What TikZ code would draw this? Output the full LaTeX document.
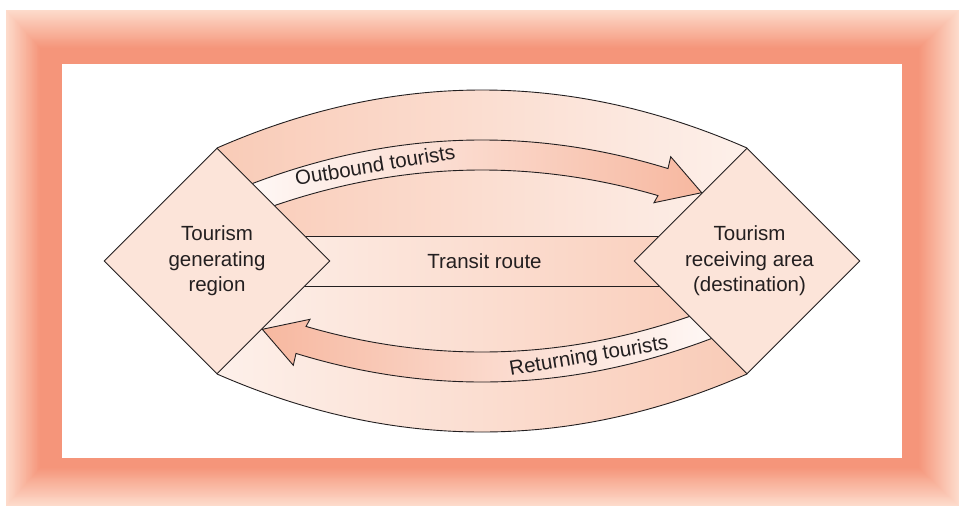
\documentclass[tikz,border=0pt]{standalone}
\usepackage{fontspec}
\setmainfont{Liberation Sans}
\usetikzlibrary{shapes.geometric}
\definecolor{frameStrong}{RGB}{245,149,122}
\definecolor{frameLight}{RGB}{253,219,203}
\definecolor{bandStrong}{RGB}{249,203,183}
\definecolor{bandLight}{RGB}{253,240,234}
\definecolor{diamondFill}{RGB}{252,228,217}
\definecolor{arrowPeach}{RGB}{247,184,160}
\definecolor{inkGray}{RGB}{35,31,32}

\begin{document}
\begin{tikzpicture}[x=1pt,y=-1pt,
  outline/.style={draw=inkGray,line width=0.9pt,line join=miter},
  region/.style={diamond,aspect=1,minimum width=226pt,minimum height=226pt,
    inner sep=0pt,fill=diamondFill,draw=inkGray,line width=0.9pt,
    text=inkGray,font=\fontsize{20.5}{25.5}\selectfont,align=center},
  txt/.style={text=inkGray,font=\fontsize{20.5}{25.5}\selectfont,align=center,inner sep=0pt}]

\useasboundingbox (0,0) rectangle (963,506);

% soft salmon frame: nested rectangles fading outward
\foreach \i in {0,...,40}{
  \pgfmathsetmacro\p{\i*2.5}
  \fill[frameStrong!\p!frameLight] ({6+0.85*\i},{10+0.95*\i}) rectangle ({959-1.0*\i},{506-0.95*\i});
}
\fill[white] (62,64) rectangle (902,458);

% anchor points of the band between the two regions
\coordinate (genTop) at (217,148);
\coordinate (genBot) at (217,374);
\coordinate (recTop) at (747,148);
\coordinate (recBot) at (747,374);

% band fills
\path[left color=bandStrong,right color=bandLight]
  (genTop) .. controls (393.67,70.67) and (570.33,70.67) .. (recTop)
  -- (747,236) -- (217,236) -- cycle;
\path[left color=bandLight,right color=bandStrong]
  (217,286) -- (747,286) -- (recBot)
  .. controls (570.33,451.33) and (393.67,451.33) .. (genBot) -- cycle;
\path[left color=bandLight,right color=bandStrong] (217,236) rectangle (747,286);

% band outlines
\draw[outline] (genTop) .. controls (393.67,70.67) and (570.33,70.67) .. (recTop);
\draw[outline] (recBot) .. controls (570.33,451.33) and (393.67,451.33) .. (genBot);
\draw[outline] (217,236) -- (747,236);
\draw[outline] (217,286) -- (747,286);

% outbound arrow
\draw[outline,left color=white,right color=arrowPeach]
  (200,205.68) .. controls (356,133.01) and (512,120.64) .. (668,168.57)
  -- (670.7,156.7) -- (701.7,192.7) -- (654,202.7) -- (658,195.58)
  .. controls (505.33,151.2) and (352.67,164.57) .. (200,235.68) -- cycle;

% returning arrow
\draw[outline,left color=arrowPeach,right color=white]
  (764,316.32) .. controls (608,388.99) and (452,401.36) .. (296,353.43)
  -- (293.3,365.3) -- (262.3,329.3) -- (310,319.3) -- (306,326.42)
  .. controls (458.67,370.8) and (611.33,357.43) .. (764,286.32) -- cycle;

% the two regions
\node[region] (gen) at (217,261) {Tourism\\generating\\region};
\node[region] (rec) at (747,261) {\hspace*{5pt}Tourism\\\hspace*{5pt}receiving area\\\hspace*{5pt}(destination)};

% labels
\node[txt] (transit) at (484.5,261) {Transit route};
\node[txt,rotate=9.5] (outText) at (375,165) {Outbound tourists};
\node[txt,rotate=9.5] (retText) at (589,357) {Returning tourists};
\end{tikzpicture}
\end{document}
